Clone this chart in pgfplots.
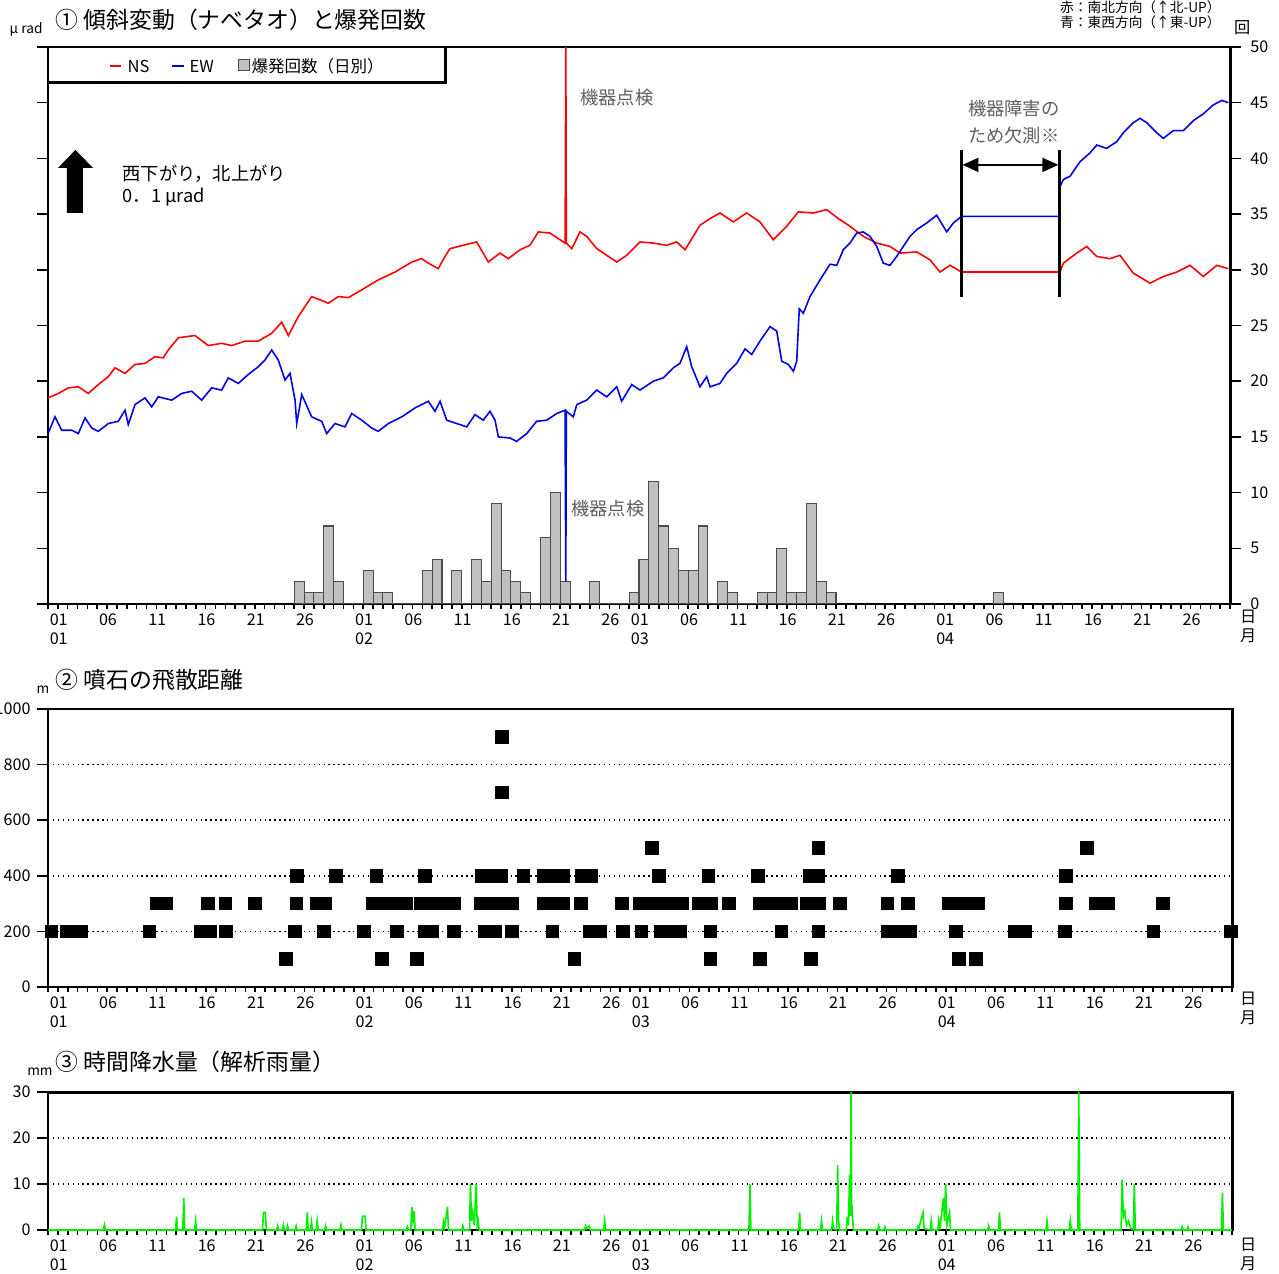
\documentclass[border=0pt]{standalone}
\usepackage{fontspec}
\setmainfont{Noto Sans CJK JP}
\usepackage{pgfplots}
\pgfplotsset{compat=1.18}
\usetikzlibrary{arrows.meta}
\definecolor{nsred}{RGB}{255,0,0}
\definecolor{ewblue}{RGB}{0,0,235}
\definecolor{barfill}{RGB}{192,192,192}
\definecolor{rain}{RGB}{0,240,0}
\definecolor{notegray}{RGB}{95,95,95}
\newcommand{\fT}{\fontsize{6.5pt}{7pt}\selectfont}
\newcommand{\fA}{\fontsize{5.2pt}{6pt}\selectfont}
\newcommand{\fK}{\fontsize{4.6pt}{5.4pt}\selectfont}
\newcommand{\fL}{\fontsize{4.7pt}{5.4pt}\selectfont}
\newcommand{\fS}{\fontsize{3.9pt}{4.3pt}\selectfont}
\pgfplotsset{base/.style={
  scale only axis, xmin=0, xmax=120,
  axis line style={line width=0.85pt},
  every tick/.style={black, line width=0.45pt},
  tick align=outside,
  xtick pos=left,
  xtick={0,5,10,15,20,25,31,36,41,46,51,56,59,64,69,74,79,84,90,95,100,105,110,115},
  xticklabels={{01\\01},06,11,16,21,26,{01\\02},06,11,16,21,26,{01\\03},06,11,16,21,26,{01\\04},06,11,16,21,26},
  minor xtick={0,1,...,120},
  major tick length=0.11cm, minor tick length=0.05cm,
  xtick style={/pgfplots/major tick length=0.05cm},
  extra x ticks={0,31,59,90}, extra x tick labels={},
  extra x tick style={/pgfplots/major tick length=0.13cm},
  xticklabel style={font=\fK, anchor=north west, align=left, inner xsep=0.3pt, inner ysep=1pt, yshift=0.05cm},
  yticklabel style={font=\fK},
  /pgf/number format/assume math mode=true,
  /pgf/number format/1000 sep={},
}}
\begin{document}
\begin{tikzpicture}
\useasboundingbox (0,0) rectangle (12.79cm,-12.74cm);
% ---------------- panel 1 ----------------
\begin{axis}[base, at={(0.48cm,-6.04cm)}, anchor=south west,
  width=11.82cm, height=5.57cm,
  ymin=0, ymax=50, ytick={0,5,...,50},
  ytick pos=both, yticklabel pos=right,
  yticklabel style={xshift=-0.03cm}]
\addplot[ybar interval, fill=barfill, draw=black!70, line width=0.3pt] coordinates {
(25,2)(26,1)(27,1)(28,7)(29,2)(30,0)(31,0)(32,3)(33,1)(34,1)(35,0)(36,0)(37,0)(38,3)(39,4)(40,0)
(41,3)(42,0)(43,4)(44,2)(45,9)(46,3)(47,2)(48,1)(49,0)(50,6)(51,10)(52,2)(53,0)(54,0)(55,2)(56,0)
(57,0)(58,0)(59,1)(60,4)(61,11)(62,7)(63,5)(64,3)(65,3)(66,7)(67,0)(68,2)(69,1)(70,0)(71,0)(72,1)
(73,1)(74,5)(75,1)(76,1)(77,9)(78,2)(79,1)(80,0)};
\addplot[ybar interval, fill=barfill, draw=black!70, line width=0.3pt] coordinates {(96,1)(97,0)};
% NS
\addplot[nsred, line width=0.45pt] coordinates {
(0,18.5)(1.05,18.9)(2.06,19.4)(3.08,19.5)(4.09,18.9)(5.11,19.7)(6.12,20.4)(6.80,21.2)(7.82,20.7)
(8.83,21.5)(9.85,21.6)(10.86,22.2)(11.71,22.1)(12.21,22.8)(13.23,23.9)(14.92,24.1)(16.27,23.2)
(17.63,23.4)(18.65,23.2)(20.0,23.6)(21.35,23.6)(22.71,24.3)(23.73,25.3)(24.40,24.1)(25.41,25.8)
(26.77,27.6)(28.46,27.0)(29.47,27.6)(30.49,27.5)(31.85,28.2)(33.54,29.1)(35.23,29.8)(36.93,30.7)
(37.94,31.0)(38.61,30.6)(39.62,30.1)(40.30,31.2)(40.81,31.9)(42.16,32.2)(43.52,32.5)(44.70,30.7)
(45.89,31.5)(46.73,31.0)(47.92,31.8)(48.93,32.2)(49.78,33.4)(50.96,33.3)(51.98,32.7)(52.50,32.4)
(52.57,50.5)(52.62,32.4)(53.17,31.9)(54.01,33.4)(54.69,33.0)(55.71,31.9)(56.72,31.3)(57.74,30.7)
(58.75,31.3)(60.10,32.5)(61.45,32.4)(62.81,32.2)(63.83,32.5)(64.67,31.8)(65.51,33.0)(66.19,34.0)
(67.21,34.6)(68.22,35.1)(69.57,34.3)(70.93,35.1)(72.28,34.3)(73.63,32.7)(74.99,33.9)(76.17,35.2)
(77.70,35.1)(79.06,35.4)(80.23,34.6)(81.42,33.9)(82.77,33.0)(84.13,32.4)(85.48,32.1)(86.50,31.5)
(88.19,31.6)(89.54,30.9)(90.56,29.8)(91.57,30.4)(92.76,29.8)(102.74,29.8)(103.08,30.6)(104.44,31.5)
(105.45,32.1)(106.47,31.2)(107.82,31.0)(108.83,31.3)(110.18,29.7)(111.88,28.8)(113.23,29.4)
(114.59,29.8)(115.94,30.4)(117.29,29.4)(118.65,30.4)(119.83,30.1)};
% EW
\addplot[ewblue, line width=0.45pt] coordinates {
(0,15.3)(0.71,16.8)(1.39,15.6)(2.41,15.6)(3.08,15.3)(3.76,16.7)(4.44,15.8)(5.11,15.5)(6.12,16.2)
(7.14,16.4)(7.82,17.4)(8.15,16.1)(8.83,17.9)(9.85,18.5)(10.53,17.7)(11.20,18.6)(12.56,18.3)
(13.57,18.9)(14.59,19.1)(15.60,18.3)(16.62,19.4)(17.63,19.2)(18.30,20.3)(19.32,19.8)(20.33,20.6)
(21.35,21.3)(22.03,21.9)(22.71,22.8)(23.38,21.9)(24.06,20.1)(24.57,20.7)(25.08,18.3)(25.25,16.2)
(25.76,18.8)(26.77,16.8)(27.79,16.4)(28.29,15.3)(29.14,16.2)(30.15,15.9)(30.83,17.1)(31.85,16.5)
(32.86,15.8)(33.53,15.5)(34.55,16.2)(35.91,16.8)(37.26,17.6)(38.61,18.2)(39.29,17.3)(39.80,18.2)
(40.48,16.5)(41.49,16.2)(42.51,15.9)(43.35,17.0)(44.19,16.5)(44.87,17.3)(45.38,16.5)(45.72,15.0)
(46.90,14.9)(47.58,14.6)(48.60,15.3)(49.61,16.4)(50.63,16.5)(51.65,17.1)(52.49,17.4)(52.57,2)
(52.62,17.3)(53.33,16.8)(53.68,17.9)(54.69,18.3)(55.71,19.2)(56.72,18.6)(57.74,19.5)(58.24,18.2)
(59.26,19.7)(60.10,19.2)(61.45,20.0)(62.47,20.3)(63.48,21.2)(64.16,21.6)(64.84,23.1)(65.35,21.3)
(66.19,19.5)(66.87,20.4)(67.21,19.5)(68.22,19.8)(68.90,20.7)(69.92,21.6)(70.76,22.9)(71.44,22.4)
(72.28,23.6)(73.30,24.9)(73.98,24.5)(74.49,21.8)(75.16,21.5)(75.67,20.9)(76.01,21.8)(76.27,26.5)
(76.68,26.1)(77.36,27.6)(78.38,29.1)(79.39,30.5)(80.07,30.4)(80.74,31.8)(81.42,32.4)(82.10,33.3)
(82.77,33.4)(83.45,33.0)(84.13,32.1)(84.80,30.6)(85.48,30.4)(86.16,31.2)(86.83,32.1)(87.51,33.0)
(88.19,33.6)(89.21,34.2)(90.22,34.9)(91.24,33.4)(91.91,34.2)(92.76,34.8)(102.74,34.8)(102.76,37.5)
(103.08,38.1)(103.76,38.4)(104.77,39.7)(105.79,40.5)(106.47,41.2)(107.48,40.9)(108.50,41.5)
(109.17,42.3)(110.18,43.2)(110.86,43.6)(111.54,43.2)(112.56,42.3)(113.23,41.8)(114.25,42.5)
(115.27,42.5)(116.29,43.4)(117.29,44.0)(118.30,44.8)(119.16,45.2)(119.83,45.0)};
\end{axis}
% ---------------- panel 2 ----------------
\begin{axis}[base, at={(0.48cm,-9.87cm)}, anchor=south west,
  width=11.84cm, height=2.78cm,
  ymin=0, ymax=1000, ytick={0,200,...,1000}, ytick pos=left,
  yticklabel style={xshift=0.06cm},
  ymajorgrids, grid style={black, densely dotted, line width=0.4pt}]
\addplot[only marks, mark=square*, mark size=1.75pt, black] table {
x y
46.04 900
46.04 700
61.18 500
78.08 500
105.33 500
25.26 400
29.22 400
33.30 400
38.19 400
44.02 400
45.00 400
45.97 400
48.18 400
50.24 400
51.25 400
52.26 400
54.12 400
55.02 400
61.93 400
66.94 400
71.96 400
77.18 400
78.04 400
86.18 400
103.16 400
10.99 300
11.97 300
16.20 300
17.99 300
20.99 300
25.18 300
27.20 300
28.09 300
32.91 300
34.08 300
35.24 300
36.34 300
37.81 300
38.97 300
40.14 300
41.15 300
43.87 300
45.04 300
46.20 300
47.06 300
50.24 300
51.25 300
52.26 300
54.01 300
58.20 300
60.03 300
61.22 300
62.41 300
63.58 300
64.29 300
65.96 300
67.22 300
69.00 300
72.16 300
73.34 300
74.53 300
75.36 300
76.89 300
78.12 300
80.25 300
85.08 300
87.13 300
91.31 300
92.50 300
93.68 300
94.31 300
103.20 300
106.20 300
107.42 300
113.00 300
0.36 200
1.95 200
3.38 200
10.30 200
15.53 200
16.45 200
18.07 200
25.03 200
27.98 200
32.02 200
35.36 200
38.23 200
38.89 200
41.15 200
44.25 200
45.27 200
47.02 200
51.14 200
54.90 200
55.99 200
58.28 200
60.15 200
62.09 200
63.08 200
64.06 200
67.15 200
74.34 200
78.08 200
85.08 200
86.21 200
87.36 200
92.02 200
97.95 200
99.02 200
103.05 200
112.04 200
119.90 200
24.09 100
33.85 100
37.38 100
53.35 100
67.15 100
72.16 100
77.33 100
92.34 100
94.08 100
};
\end{axis}
% ---------------- panel 3 ----------------
\begin{axis}[base, at={(0.48cm,-12.30cm)}, anchor=south west,
  width=11.84cm, height=1.38cm,
  ymin=0, ymax=30, ytick={0,10,20,30}, ytick pos=left,
  yticklabel style={xshift=0.06cm},
  ymajorgrids, grid style={black, densely dotted, line width=0.4pt}]
\addplot[rain, line width=0.45pt] coordinates {
(0,0)(5.62,0)(5.72,1.1)(5.82,0)(12.93,0)(13.03,2.9)(13.13,0)(13.66,0)(13.76,6.9)(13.86,0)
(14.86,0)(14.96,2.0)(15.06,0)(21.74,0)(21.84,3.8)(21.94,3.8)(22.03,3.8)(22.13,0)
(23.18,0)(23.28,0.9)(23.38,0)(23.76,0)(23.86,1.1)(23.96,0)(24.18,0)(24.28,0.9)(24.38,0)
(25.05,0)(25.15,0.9)(25.25,0)(26.17,0)(26.27,3.8)(26.37,0)(26.60,0)(26.70,1.8)(26.80,0)
(27.18,0)(27.28,2.0)(27.38,0)(28.03,0)(28.13,0.9)(28.23,0)(29.59,0)(29.69,1.1)(29.79,0)
(31.77,0)(31.87,3.0)(31.97,3.0)(32.05,3.0)(32.14,3.0)(32.24,0)
(36.32,0)(36.42,0.7)(36.52,0)(36.77,0)(36.87,5.0)(36.99,2)(37.11,4.1)(37.21,0)
(40.00,0)(40.10,1.8)(40.20,0.5)(40.49,5.0)(40.59,0)(41.94,0)(42.04,0.9)(42.14,0)
(42.72,0)(42.82,10.1)(42.92,2)(43.05,4)(43.20,1)(43.40,10.1)(43.50,1)(43.60,2)(43.70,0)
(54.38,0)(54.48,0.9)(54.58,0.3)(54.86,0.9)(54.96,0)(56.32,0)(56.42,2.0)(56.52,0)
(71.04,0)(71.14,10.0)(71.24,0)(76.08,0)(76.18,3.8)(76.28,0)(78.30,0)(78.40,2.0)(78.50,0)
(79.42,0)(79.52,2.0)(79.62,0.3)(79.93,0)(80.03,14.1)(80.13,2)(80.23,0)
(80.91,0)(81.01,2.9)(81.12,1)(81.24,12)(81.32,3)(81.39,30)(81.46,3)(81.52,3.8)(81.62,0)
(84.09,0)(84.19,0.9)(84.29,0)(84.71,0)(84.81,0.7)(84.91,0)
(88.05,0)(88.15,0.7)(88.25,0.2)(88.43,1.8)(88.69,3.8)(88.79,0.3)(89.41,0)(89.51,2.0)(89.61,0)
(90.18,0)(90.28,2.2)(90.40,0.5)(90.75,6.9)(90.86,2)(90.98,10.1)(91.10,1)(91.37,3.8)(91.47,0)
(95.24,0)(95.34,0.9)(95.44,0)(96.33,0)(96.43,3.8)(96.53,0)(101.15,0)(101.25,2.0)(101.35,0)
(103.51,0)(103.61,2.0)(103.71,0)(104.37,0)(104.47,30)(104.57,0)
(108.76,0)(108.86,11.0)(109.00,3)(109.14,4)(109.30,1)(109.52,2)(109.70,0.5)(110.00,0)(110.10,10.1)(110.20,0)
(114.86,0)(114.96,0.7)(115.06,0)(115.44,0)(115.54,0.7)(115.64,0)(118.93,0)(119.03,8.1)(119.13,0)(120,0)};
\end{axis}
% ---------------- annotations ----------------
\begin{scope}[x=0.01cm,y=-0.01cm, every node/.style={inner sep=0pt}]
% titles
\node[anchor=west, font=\fT] at (55,20) {① 傾斜変動（ナベタオ）と爆発回数};
\node[anchor=west, font=\fS] at (9,29) {μ rad};
\node[anchor=west, font=\fT] at (55,680) {② 噴石の飛散距離};
\node[anchor=center, font=\fS] at (43,690) {m};
\node[anchor=west, font=\fT] at (55,1062) {③ 時間降水量（解析雨量）};
\node[anchor=center, font=\fS] at (40,1072) {mm};
% top right
\node[anchor=east, font=\fS] at (1222,7) {赤：南北方向（↑北-UP）};
\node[anchor=east, font=\fS] at (1222,22) {青：東西方向（↑東-UP）};
\node[anchor=west, font=\fK] at (1234,28) {回};
% day/month labels
\foreach \yy in {627,1009,1255}{
  \node[font=\fK, align=center] at (1249,\yy) {日\\月};
}
% legend
\draw[line width=0.85pt] (48,83) -- (446,83) -- (446,47);
\draw[nsred, line width=0.5pt] (110,66) -- (121,66);
\node[anchor=west, font=\fL] at (127,66) {NS};
\draw[ewblue, line width=0.5pt] (172,66) -- (184,66);
\node[anchor=west, font=\fL] at (189,66) {EW};
\filldraw[fill=barfill, draw=black!70, line width=0.3pt] (239,60) rectangle (250,71);
\node[anchor=west, font=\fL] at (251,66) {爆発回数（日別）};
% arrow
\fill[black] (67,213) -- (83,213) -- (83,168) -- (93,168) -- (75.5,150) -- (58,168) -- (67,168) -- cycle;
\node[anchor=west, font=\fA] at (122,174) {西下がり，北上がり};
\node[anchor=west, font=\fA] at (122,197) {0．1 μrad};
% notes
\node[anchor=west, font=\fA, text=notegray] at (580,98) {機器点検};
\node[anchor=west, font=\fA, text=notegray] at (571,509) {機器点検};
\node[anchor=west, font=\fA, text=notegray] at (968,109) {機器障害の};
\node[anchor=west, font=\fA, text=notegray] at (968,136) {ため欠測※};
\draw[line width=0.7pt] (962,150) -- (962,297);
\draw[line width=0.7pt] (1060,150) -- (1060,297);
\draw[line width=0.45pt, {Triangle[length=0.16cm,width=0.14cm]}-{Triangle[length=0.16cm,width=0.14cm]}] (963,165) -- (1059,165);
\end{scope}
\end{tikzpicture}
\end{document}
